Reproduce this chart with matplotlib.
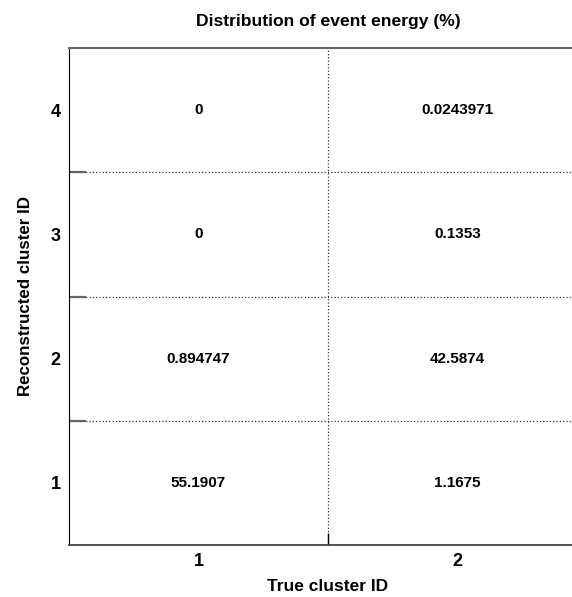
import numpy as np
import matplotlib.pyplot as plt

plt.rcParams['font.family'] = ['Liberation Sans', 'DejaVu Sans']

true_ids = [1, 2]
reco_ids = [1, 2, 3, 4]
# energy fraction (%) per cell, rows = reconstructed cluster, cols = true cluster
energy_true1 = [55.1907, 0.894747, 0, 0]
energy_true2 = [1.1675, 42.5874, 0.1353, 0.0243971]

fig = plt.figure(figsize=(5.72, 5.97), dpi=100)
ax = fig.add_axes([69/572, 1 - 545/597, 518/572, 497/597])

ax.set_xlim(0.5, 2.5)
ax.set_ylim(0.5, 4.5)

for xi, col in zip(true_ids, [energy_true1, energy_true2]):
    for yi, v in zip(reco_ids, col):
        ax.text(xi, yi, f"{v:g}", ha='center', va='center',
                fontsize=11, fontweight='bold')

ax.set_xticks(true_ids)
ax.set_yticks(reco_ids)
ax.set_xticks([1.5], minor=True)
ax.set_yticks([1.5, 2.5, 3.5], minor=True)
ax.tick_params(which='major', length=0, labelsize=13)
ax.tick_params(axis='y', which='major', pad=6)
ax.tick_params(axis='x', which='major', pad=6)
for lab in ax.get_xticklabels() + ax.get_yticklabels():
    lab.set_fontweight('bold')
ax.tick_params(axis='y', which='minor', direction='in', length=12.5, width=1.6, color='#666666')
ax.tick_params(axis='x', which='minor', direction='in', length=9, width=1, color='black')
ax.grid(which='minor', linestyle=':', color='#333333', linewidth=0.9)

ax.spines['left'].set_color('black')
ax.spines['bottom'].set_color('#444444')
ax.spines['bottom'].set_linewidth(1.3)
ax.spines['top'].set_color('#666666')
ax.spines['top'].set_linewidth(1.5)

ax.set_title('Distribution of event energy (%)', fontsize=12.6, fontweight='bold', pad=16)
ax.set_xlabel('True cluster ID', fontsize=12.5, fontweight='bold', labelpad=6)
ax.set_ylabel('Reconstructed cluster ID', fontsize=12.2, fontweight='bold', labelpad=13)

fig.savefig('out.png', dpi=100)
